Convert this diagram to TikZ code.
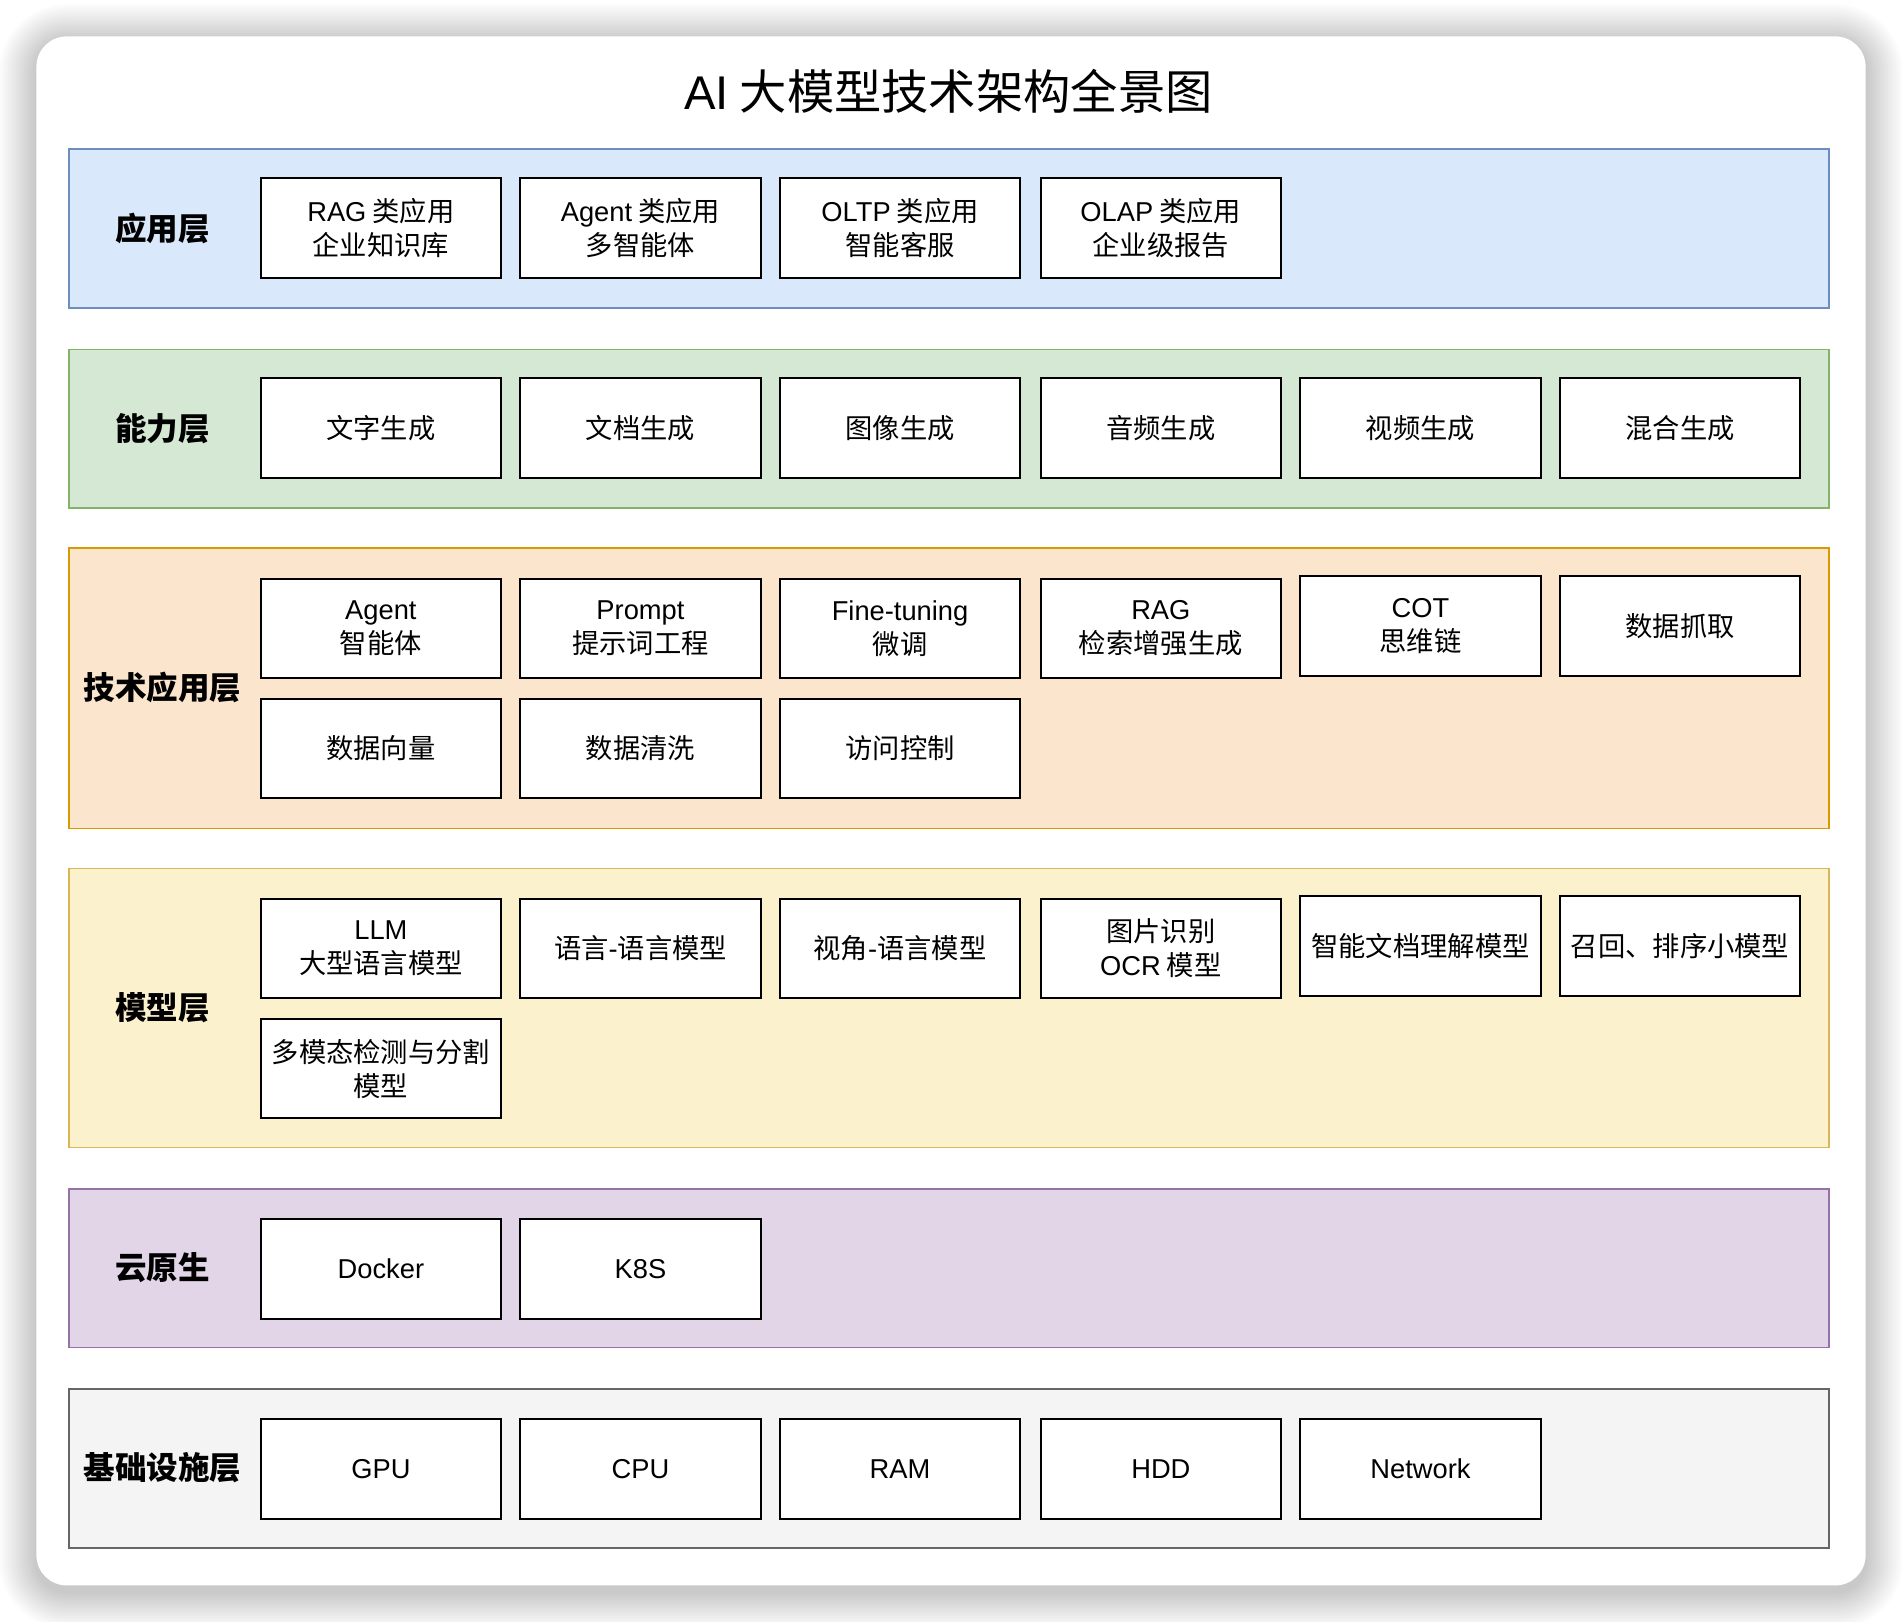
\documentclass[tikz,border=0pt]{standalone}
\usepackage{fontspec}
\setmainfont{Noto Sans CJK SC}
\newfontfamily\lat{Liberation Sans}
\usetikzlibrary{calc}
\definecolor{appF}{HTML}{DAE8FC}\definecolor{appD}{HTML}{6C8EBF}
\definecolor{capF}{HTML}{D5E8D4}\definecolor{capD}{HTML}{82B366}
\definecolor{tecF}{HTML}{FBE5CD}\definecolor{tecD}{HTML}{D79B00}
\definecolor{modF}{HTML}{FCF1CD}\definecolor{modD}{HTML}{D6B656}
\definecolor{cldF}{HTML}{E1D5E7}\definecolor{cldD}{HTML}{9673A6}
\definecolor{infF}{HTML}{F4F4F4}\definecolor{infD}{HTML}{666666}
\tikzset{
  layer/.style={draw, line width=1.3pt, minimum width=1451pt, inner sep=0pt},
  lbl/.style={font=\bfseries\fontsize{26}{30}\selectfont, inner sep=0pt},
  cell/.style={draw=black, line width=1.6pt, fill=white, minimum width=198pt, minimum height=82pt,
     align=center, inner sep=0pt, font=\fontsize{22.5}{28}\selectfont},
}
\begin{document}
\begin{tikzpicture}[x=1pt,y=-1pt]
\useasboundingbox (0,0) rectangle (1568,1337);
\fill[white] (0,0) rectangle (1568,1337);
% shadow
\foreach \i in {1,...,18}{
  \pgfmathsetmacro\rr{25+1.7*\i}
  \fill[black,opacity=0.010,rounded corners=\rr pt] ({30-1.7*\i},{34-1.7*\i}) rectangle ({1538+1.7*\i},{1312+1.7*\i});
}
\node[fill=white, rounded corners=25pt, minimum width=1508pt, minimum height=1277pt, inner sep=0pt] (card) at (784,668.5) {};
\node[font=\fontsize{39}{44}\selectfont, inner sep=0pt] (title) at (782,75) {{\lat AI} 大模型技术架构全景图};

% layers
\node[layer, fill=appF, draw=appD, minimum height=131pt] (L1) at (782.5,188.5) {};
\node[layer, fill=capF, draw=capD, minimum height=131pt] (L2) at (782.5,353.5) {};
\node[layer, fill=tecF, draw=tecD, minimum height=231pt] (L3) at (782.5,567.5) {};
\node[layer, fill=modF, draw=modD, minimum height=230pt] (L4) at (782.5,831) {};
\node[layer, fill=cldF, draw=cldD, minimum height=131pt] (L5) at (782.5,1045.5) {};
\node[layer, fill=infF, draw=infD, minimum height=131pt] (L6) at (782.5,1210.5) {};

\node[lbl] (t1) at (134,188) {应用层};
\node[lbl] (t2) at (134,353) {能力层};
\node[lbl] (t3) at (134,567) {技术应用层};
\node[lbl] (t4) at (134,831) {模型层};
\node[lbl] (t5) at (134,1045) {云原生};
\node[lbl] (t6) at (134,1210) {基础设施层};

% application layer
\node[cell] (a1) at (314,188) {{\lat RAG} 类应用\\企业知识库};
\node[cell] (a2) at (528,188) {{\lat Agent} 类应用\\多智能体};
\node[cell] (a3) at (742,188) {{\lat OLTP} 类应用\\智能客服};
\node[cell] (a4) at (957,188) {{\lat OLAP} 类应用\\企业级报告};

% capability layer
\node[cell] (c1) at (314,353) {文字生成};
\node[cell] (c2) at (528,353) {文档生成};
\node[cell] (c3) at (742,353) {图像生成};
\node[cell] (c4) at (957,353) {音频生成};
\node[cell] (c5) at (1171,353) {视频生成};
\node[cell] (c6) at (1385,353) {混合生成};

% technology application layer
\node[cell] (e1) at (314,518) {{\lat Agent}\\智能体};
\node[cell] (e2) at (528,518) {{\lat Prompt}\\提示词工程};
\node[cell] (e3) at (742,518) {{\lat Fine-tuning}\\微调};
\node[cell] (e4) at (957,518) {{\lat RAG}\\检索增强生成};
\node[cell] (e5) at (1171,516) {{\lat COT}\\思维链};
\node[cell] (e6) at (1385,516) {数据抓取};
\node[cell] (e7) at (314,617) {数据向量};
\node[cell] (e8) at (528,617) {数据清洗};
\node[cell] (e9) at (742,617) {访问控制};

% model layer
\node[cell] (m1) at (314,782) {{\lat LLM}\\大型语言模型};
\node[cell] (m2) at (528,782) {语言{\lat -}语言模型};
\node[cell] (m3) at (742,782) {视角{\lat -}语言模型};
\node[cell] (m4) at (957,782) {图片识别\\{\lat OCR} 模型};
\node[cell] (m5) at (1171,780) {智能文档理解模型};
\node[cell] (m6) at (1385,780) {召回、排序小模型};
\node[cell] (m7) at (314,881) {多模态检测与分割\\模型};

% cloud native
\node[cell] (k1) at (314,1046) {{\lat Docker}};
\node[cell] (k2) at (528,1046) {{\lat K8S}};

% infrastructure
\node[cell] (i1) at (314,1211) {{\lat GPU}};
\node[cell] (i2) at (528,1211) {{\lat CPU}};
\node[cell] (i3) at (742,1211) {{\lat RAM}};
\node[cell] (i4) at (957,1211) {{\lat HDD}};
\node[cell] (i5) at (1171,1211) {{\lat Network}};
\end{tikzpicture}
\end{document}
